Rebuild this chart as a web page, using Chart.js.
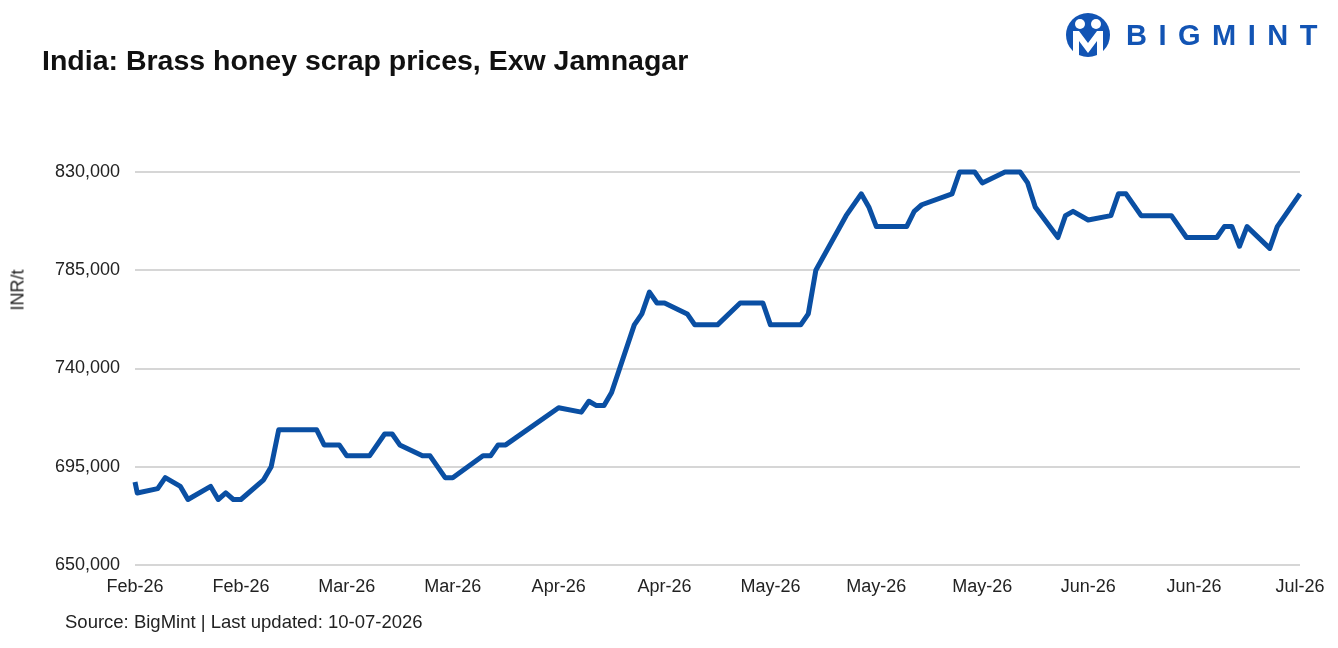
<!DOCTYPE html>
<html>
<head>
<meta charset="utf-8">
<script src="https://cdn.jsdelivr.net/npm/chart.js@4.4.1/dist/chart.umd.min.js"></script>
<style>
  html, body { margin: 0; padding: 0; background: #fff; }
  body { width: 1338px; height: 648px; position: relative; overflow: hidden; font-family: "Liberation Sans", Arial, sans-serif; }
  #title { position: absolute; left: 42px; top: 44px; font-size: 28.5px; font-weight: bold; color: #111; }
  #source { position: absolute; left: 65px; top: 611px; font-size: 18.5px; color: #222; }
  #ytitle { position: absolute; left: 18px; top: 290px; transform: translate(-50%, -50%) rotate(-90deg); font-size: 18px; color: #222; white-space: nowrap; }
  #logo { position: absolute; left: 1064px; top: 13px; display: flex; align-items: center; }
  #logo span { font-size: 29px; font-weight: bold; color: #1254b4; letter-spacing: 11.5px; margin-left: 14px; }
  #wrap { position: absolute; left: 0; top: 0; width: 1338px; height: 648px; }
</style>
</head>
<body>
<div id="wrap"><canvas id="chart" width="1338" height="648"></canvas></div>
<div id="title">India: Brass honey scrap prices, Exw Jamnagar</div>
<div id="ytitle">INR/t</div>
<div id="logo">
  <svg width="48" height="44" viewBox="0 0 48 44">
    <circle cx="24" cy="22" r="22" fill="#1254b4"/>
    <circle cx="16" cy="11" r="5" fill="#fff"/>
    <circle cx="32" cy="11" r="5" fill="#fff"/>
    <path d="M9 18 L15 18 L24 30 L33 18 L39 18 L39 42 L33 42 L33 28 L24 40 L15 28 L15 42 L9 42 Z" fill="#fff"/>
  </svg>
  <span>BIGMINT</span>
</div>
<div id="source">Source: BigMint | Last updated: 10-07-2026</div>
<script>
// day offsets (from first date) and prices, INR/t
const days = [0, 0.3, 3, 4, 6, 7, 10, 11, 12, 13, 14, 17, 18, 19, 24, 25, 27, 28, 31, 33, 34,
  35, 38, 39, 41, 42, 46, 47, 48, 49, 56, 59, 60, 61, 62, 63, 66, 67, 68, 69, 70,
  73, 74, 77, 80, 83, 84, 88, 89, 90, 94, 96, 97, 98, 102, 103, 104, 108, 109, 111, 112,
  115, 117, 118, 119, 122, 123, 124, 126, 129, 130, 131, 133, 137, 139, 143, 144, 145, 146, 147, 150,
  151, 154];
const prices = [688000, 683000, 685000, 690000, 686000, 680000, 686000, 680000, 683000, 680000, 680000, 689000, 695000, 712000, 712000, 705000, 705000, 700000, 700000, 710000, 710000,
  705000, 700000, 700000, 690000, 690000, 700000, 700000, 705000, 705000, 722000, 720000, 725000, 723000, 723000, 729000, 760000, 765000, 775000, 770000, 770000,
  765000, 760000, 760000, 770000, 770000, 760000, 760000, 765000, 785000, 810000, 820000, 814000, 805000, 805000, 812000, 815000, 820000, 830000, 830000, 825000,
  830000, 830000, 825000, 814000, 800000, 810000, 812000, 808000, 810000, 820000, 820000, 810000, 810000, 800000, 800000, 805000, 805000, 796000, 805000, 795000,
  805000, 820000];
const tickLabels = ["Feb-26", "Feb-26", "Mar-26", "Mar-26", "Apr-26", "Apr-26", "May-26", "May-26", "May-26", "Jun-26", "Jun-26", "Jul-26"];
const tickStep = 14;

const font = { family: "'Liberation Sans', Arial, sans-serif", size: 18 };

new Chart(document.getElementById("chart"), {
  type: "line",
  data: {
    datasets: [{
      label: "Price",
      data: days.map((d, i) => ({ x: d, y: prices[i] })),
      borderColor: "#0a4fa3",
      borderWidth: 5,
      pointRadius: 0,
      tension: 0,
      borderJoinStyle: "round",
      clip: 6
    }]
  },
  options: {
    responsive: false,
    animation: false,
    devicePixelRatio: 1,
    layout: { padding: { top: 172, right: 38, bottom: 48, left: 0 } },
    plugins: { legend: { display: false }, tooltip: { enabled: false } },
    scales: {
      x: {
        type: "linear",
        min: 0,
        max: tickStep * (tickLabels.length - 1),
        afterBuildTicks: s => { s.ticks = tickLabels.map((_, i) => ({ value: i * tickStep })); },
        afterFit: s => { s.height = 35; },
        grid: { display: false, drawTicks: false },
        border: { display: false },
        ticks: {
          font: font, color: "#222", padding: 11, maxRotation: 0, autoSkip: false,
          callback: v => tickLabels[Math.round(v / tickStep)]
        }
      },
      y: {
        min: 650000,
        max: 830000,
        afterFit: s => { s.width = 135; },
        grid: { color: "#d6d6d6", lineWidth: 2, drawTicks: false },
        border: { display: false },
        ticks: {
          stepSize: 45000, font: font, color: "#222", padding: 15,
          callback: v => v.toLocaleString("en-US")
        }
      }
    }
  }
});
</script>
</body>
</html>
